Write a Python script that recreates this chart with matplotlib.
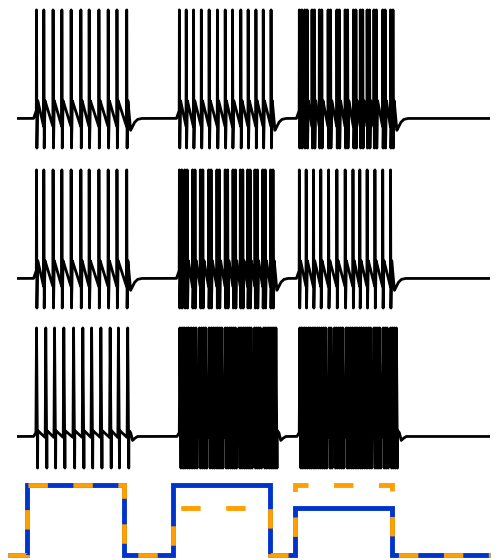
import numpy as np
import matplotlib
matplotlib.use("Agg")
import matplotlib.pyplot as plt

# tiempos de los spikes (ms)
top_b1 = [40, 55, 74, 92, 111, 131, 148, 168, 187, 205, 225]
top_b2 = [333, 347, 362, 378, 394, 411, 427, 442, 459, 474, 490, 505, 521]
top_b3 = [579, 584, 590, 595, 605, 610, 620, 625, 638, 643, 656, 661, 673, 678,
          690, 695, 704, 709, 718, 723, 732, 737, 750, 755, 766, 771]

mid_b1 = [40, 55, 74, 92, 111, 131, 148, 168, 187, 205, 225]
mid_b2 = [333, 338, 344, 349, 360, 365, 376, 381, 393, 398, 410, 415, 427, 432,
          443, 448, 458, 463, 473, 478, 488, 493, 504, 509, 520, 525]
mid_b3 = [579, 593, 608, 623, 639, 656, 673, 689, 703, 718, 734, 750, 766]

bot_b1 = [40, 59, 77, 96, 116, 135, 153, 172, 191, 208, 227]
bot_b2 = [334, 339, 343, 348, 352, 357, 362, 367, 374, 379, 383, 387, 394, 399,
          403, 408, 412, 416, 420, 427, 431, 436, 440, 444, 448, 455, 459, 464,
          468, 472, 476, 480, 487, 491, 495, 499, 506, 510, 515, 519, 523, 527, 531]
bot_b3 = [580, 584, 589, 593, 598, 602, 607, 611, 616, 620, 625, 629, 633, 640,
          644, 651, 655, 660, 664, 668, 675, 679, 684, 688, 693, 697, 702, 706,
          711, 716, 721, 725, 732, 736, 740, 744, 751, 755, 759, 766, 770, 774, 778]

# estimulos (escalones)
stim_edges = [-18, 20, 220, 320, 520, 570, 770, 970]
stim_blue = [0, 1, 0, 1, 0, 0.67, 0]
stim_orange = [0, 1, 0, 0.67, 0, 1, 0]

T_END = 970
BASE = -70

# forma de cada tipo de spike: pico, valle, subida, bajada, ADP, pre-spike
forma_a = dict(peak=40, trough=-100, rise=0.4, fall=0.8, adp_t=2.5, adp=-52,
               pre=-78, pre0=-62, tail=[(8, -82), (12, -78), (16, -74), (22, -71), (30, -70)])
forma_b = dict(peak=40, trough=-102, rise=1.2, fall=2.2, adp_t=2.6, adp=-64,
               pre=-71, pre0=-66, tail=[(6, -66), (10, -74), (14, -72), (20, -70)])


def armar_traza(t, bursts, f):
    kt, kv = [0.0], [BASE]
    for spikes in bursts:
        s0 = spikes[0]
        kt += [s0 - 6, s0 - f["rise"]]
        kv += [BASE, f["pre0"]]
        for i, s in enumerate(spikes):
            if i > 0:
                kt.append(s - f["rise"])
                kv.append(f["pre"])
            kt += [s, s + f["fall"], s + f["adp_t"]]
            kv += [f["peak"], f["trough"], f["adp"]]
        last = spikes[-1]
        for dt_, v in f["tail"]:
            kt.append(last + dt_)
            kv.append(v)
    kt.append(T_END)
    kv.append(BASE)
    return np.interp(t, kt, kv)


t = np.arange(0, T_END + 0.05, 0.05)
v_top = armar_traza(t, [top_b1, top_b2, top_b3], forma_a)
v_mid = armar_traza(t, [mid_b1, mid_b2, mid_b3], forma_a)
v_bot = armar_traza(t, [bot_b1, bot_b2, bot_b3], forma_b)

fig = plt.figure(figsize=(5, 5.6), dpi=100)

# trazas de voltaje
for bottom, v in [(0.7268, v_top), (0.4411, v_mid), (0.1589, v_bot)]:
    ax = fig.add_axes([0.034, bottom, 0.946, 0.2643])
    ax.plot(t, v, color="black", lw=2)
    ax.set_xlim(0, T_END)
    ax.set_ylim(-105, 45)
    ax.axis("off")

# panel de estimulos
ax = fig.add_axes([0.016, 0.0, 0.964, 0.1518])
lw = 3.5
ax.stairs(stim_blue, stim_edges, baseline=None, color="#0033cc", lw=lw, clip_on=False)
ax.stairs(stim_orange, stim_edges, baseline=None, color="#ff9f00", lw=lw,
          linestyle=(0, (4.0, 5.25)), clip_on=False)
ax.set_xlim(stim_edges[0], stim_edges[-1])
ax.set_ylim(-0.0714, 1.1429)
ax.axis("off")

fig.savefig("out.png", dpi=100)
